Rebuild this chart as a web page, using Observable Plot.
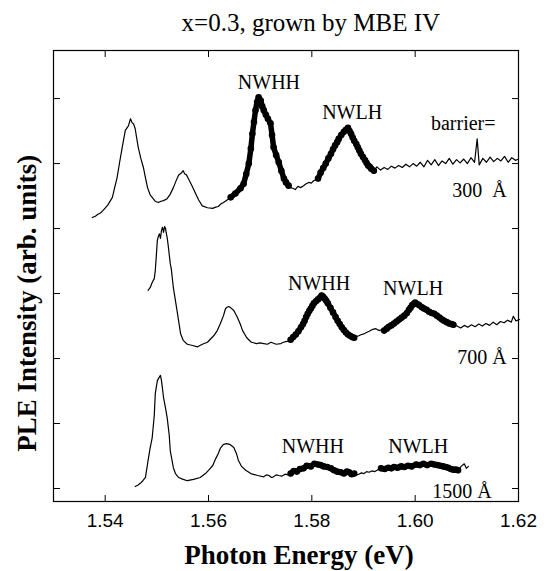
<!DOCTYPE html>
<html><head><meta charset="utf-8">
<script src="https://cdn.jsdelivr.net/npm/d3@7"></script>
<script src="https://cdn.jsdelivr.net/npm/@observablehq/plot@0.6"></script>
<style>body{margin:0;background:#fff}</style>
</head><body><div id="chart"></div>
<script>
// PLE spectra [photon energy (eV), intensity (arb. units, offset)]
const spectrum300 = [
[1.5375,4.17],[1.5381,4.19],[1.5386,4.22],[1.5391,4.24],[1.5396,4.28],[1.5405,4.36],[1.5414,4.48],[1.5418,4.62],[1.5423,4.78],[1.5428,5.02],[1.5433,5.25],[1.5439,5.51],[1.5445,5.58],[1.5449,5.69],[1.5452,5.63],[1.5455,5.61],[1.5458,5.54],[1.5464,5.25],[1.5469,5.08],[1.5474,4.94],[1.5478,4.78],[1.5482,4.63],[1.5487,4.52],[1.5491,4.48],[1.5497,4.42],[1.5503,4.40],[1.5508,4.42],[1.5513,4.43],[1.5520,4.46],[1.5526,4.53],[1.5532,4.63],[1.5537,4.73],[1.5542,4.82],[1.5548,4.86],[1.5551,4.89],[1.5554,4.84],[1.5557,4.83],[1.5561,4.77],[1.5568,4.66],[1.5575,4.54],[1.5581,4.44],[1.5588,4.35],[1.5598,4.32],[1.5608,4.31],[1.5614,4.33],[1.5619,4.34],[1.5624,4.38],[1.5629,4.40],[1.5636,4.44],[1.5643,4.48],[1.5652,4.54],[1.5662,4.62],[1.5668,4.69],[1.5673,4.84],[1.5678,5.00],[1.5682,5.23],[1.5685,5.46],[1.5688,5.64],[1.5691,5.82],[1.5694,5.95],[1.5697,6.02],[1.5701,5.97],[1.5704,5.88],[1.5707,5.82],[1.5711,5.75],[1.5715,5.69],[1.5720,5.62],[1.5723,5.44],[1.5726,5.25],[1.5731,5.13],[1.5736,5.02],[1.5741,4.89],[1.5746,4.77],[1.5750,4.71],[1.5755,4.66],[1.5759,4.63],[1.5763,4.62],[1.5768,4.60],[1.5773,4.65],[1.5778,4.63],[1.5784,4.66],[1.5789,4.69],[1.5794,4.71],[1.5799,4.70],[1.5804,4.74],[1.5808,4.75],[1.5812,4.77],[1.5817,4.86],[1.5822,4.93],[1.5827,5.00],[1.5832,5.08],[1.5837,5.15],[1.5841,5.22],[1.5845,5.28],[1.5849,5.33],[1.5852,5.38],[1.5857,5.44],[1.5862,5.49],[1.5866,5.52],[1.5870,5.55],[1.5873,5.50],[1.5876,5.46],[1.5879,5.40],[1.5882,5.35],[1.5886,5.30],[1.5889,5.25],[1.5892,5.20],[1.5895,5.15],[1.5899,5.10],[1.5903,5.05],[1.5906,5.01],[1.5909,4.97],[1.5912,4.95],[1.5915,4.92],[1.5920,4.89],
[1.5926,4.95],[1.5933,4.90],[1.5940,4.94],[1.5947,4.91],[1.5954,4.96],[1.5961,4.93],[1.5968,4.97],[1.5975,4.94],[1.5982,4.99],[1.5989,4.95],[1.5996,5.00],[1.6003,4.96],[1.6010,5.02],[1.6017,4.95],[1.6024,5.05],[1.6031,4.98],[1.6038,5.06],[1.6045,4.97],[1.6052,5.04],[1.6059,5.00],[1.6066,5.08],[1.6073,4.99],[1.6080,5.06],[1.6087,5.01],[1.6094,5.07],[1.6101,5.00],[1.6108,5.09],[1.6115,5.02],[1.6120,5.38],[1.6124,4.98],[1.6131,5.08],[1.6138,5.02],[1.6145,5.10],[1.6152,5.03],[1.6159,5.08],[1.6166,5.04],[1.6173,5.11],[1.6180,5.02],[1.6187,5.09],[1.6194,5.05],[1.6200,5.07]
];
const spectrum700 = [
[1.5483,3.05],[1.5487,3.09],[1.5491,3.17],[1.5495,3.23],[1.5497,3.35],[1.5499,3.58],[1.5501,3.82],[1.5503,3.88],[1.5505,3.92],[1.5507,3.85],[1.5509,3.97],[1.5511,4.02],[1.5513,3.94],[1.5515,4.03],[1.5517,4.00],[1.5518,3.94],[1.5520,3.86],[1.5522,3.74],[1.5526,3.46],[1.5528,3.38],[1.5532,3.09],[1.5536,2.89],[1.5540,2.69],[1.5546,2.38],[1.5551,2.28],[1.5559,2.22],[1.5569,2.20],[1.5579,2.18],[1.5588,2.22],[1.5598,2.25],[1.5610,2.35],[1.5617,2.43],[1.5623,2.54],[1.5629,2.66],[1.5633,2.77],[1.5636,2.79],[1.5639,2.80],[1.5643,2.78],[1.5649,2.74],[1.5656,2.63],[1.5662,2.52],[1.5666,2.43],[1.5674,2.32],[1.5683,2.25],[1.5693,2.23],[1.5700,2.24],[1.5707,2.23],[1.5714,2.22],[1.5721,2.25],[1.5731,2.22],[1.5740,2.23],[1.5745,2.25],[1.5750,2.26],[1.5755,2.27],
[1.5759,2.29],[1.5764,2.33],[1.5769,2.37],[1.5774,2.42],[1.5779,2.48],[1.5783,2.53],[1.5786,2.58],[1.5789,2.64],[1.5792,2.69],[1.5795,2.73],[1.5798,2.77],[1.5801,2.81],[1.5804,2.85],[1.5808,2.88],[1.5812,2.91],[1.5816,2.94],[1.5819,2.97],[1.5822,2.95],[1.5825,2.92],[1.5828,2.89],[1.5831,2.85],[1.5836,2.78],[1.5841,2.71],[1.5846,2.64],[1.5850,2.58],[1.5854,2.53],[1.5858,2.48],[1.5862,2.44],[1.5866,2.40],[1.5870,2.37],[1.5874,2.35],[1.5878,2.33],[1.5882,2.32],
[1.5887,2.34],[1.5891,2.35],[1.5896,2.37],[1.5901,2.38],[1.5906,2.40],[1.5911,2.42],[1.5918,2.45],[1.5924,2.46],[1.5928,2.44],[1.5932,2.43],[1.5936,2.45],
[1.5940,2.43],[1.5945,2.46],[1.5949,2.49],[1.5954,2.51],[1.5959,2.54],[1.5964,2.57],[1.5969,2.60],[1.5974,2.63],[1.5979,2.66],[1.5984,2.70],[1.5988,2.75],[1.5991,2.78],[1.5994,2.82],[1.5997,2.84],[1.6000,2.86],[1.6004,2.84],[1.6008,2.82],[1.6013,2.79],[1.6017,2.77],[1.6022,2.75],[1.6027,2.72],[1.6032,2.70],[1.6037,2.69],[1.6042,2.66],[1.6047,2.63],[1.6052,2.60],[1.6056,2.58],[1.6061,2.56],[1.6066,2.54],[1.6070,2.53],[1.6074,2.52],
[1.6081,2.50],[1.6088,2.47],[1.6095,2.51],[1.6102,2.48],[1.6109,2.52],[1.6116,2.49],[1.6123,2.53],[1.6130,2.50],[1.6137,2.54],[1.6144,2.51],[1.6151,2.56],[1.6158,2.52],[1.6165,2.57],[1.6172,2.55],[1.6179,2.59],[1.6186,2.56],[1.6190,2.65],[1.6195,2.58],[1.6202,2.60]
];
const spectrum1500 = [
[1.5458,0.03],[1.5463,0.05],[1.5468,0.08],[1.5473,0.12],[1.5478,0.17],[1.5483,0.43],[1.5487,0.62],[1.5491,0.78],[1.5495,1.12],[1.5497,1.46],[1.5501,1.66],[1.5503,1.69],[1.5507,1.74],[1.5509,1.66],[1.5513,1.40],[1.5517,1.23],[1.5520,1.09],[1.5524,0.82],[1.5526,0.58],[1.5532,0.32],[1.5536,0.23],[1.5542,0.17],[1.5551,0.14],[1.5559,0.12],[1.5571,0.14],[1.5584,0.17],[1.5594,0.23],[1.5600,0.28],[1.5608,0.35],[1.5614,0.46],[1.5619,0.54],[1.5623,0.62],[1.5629,0.68],[1.5635,0.69],[1.5641,0.68],[1.5649,0.63],[1.5654,0.54],[1.5658,0.43],[1.5664,0.34],[1.5672,0.28],[1.5682,0.23],[1.5695,0.20],[1.5707,0.18],[1.5712,0.21],[1.5717,0.20],[1.5722,0.17],[1.5726,0.18],[1.5731,0.21],[1.5736,0.20],[1.5742,0.19],[1.5748,0.22],[1.5754,0.21],
[1.5759,0.23],[1.5765,0.27],[1.5771,0.26],[1.5777,0.30],[1.5784,0.31],[1.5790,0.35],[1.5798,0.34],[1.5805,0.38],[1.5812,0.37],[1.5817,0.36],[1.5823,0.34],[1.5830,0.33],[1.5837,0.31],[1.5843,0.28],[1.5849,0.26],[1.5856,0.25],[1.5862,0.23],[1.5868,0.26],[1.5872,0.25],[1.5877,0.22],[1.5882,0.23],
[1.5887,0.21],[1.5891,0.22],[1.5896,0.24],[1.5901,0.23],[1.5906,0.26],[1.5911,0.25],[1.5916,0.27],[1.5922,0.26],[1.5928,0.29],
[1.5934,0.31],[1.5941,0.30],[1.5948,0.32],[1.5954,0.31],[1.5959,0.33],[1.5966,0.32],[1.5973,0.34],[1.5979,0.33],[1.5986,0.35],[1.5993,0.34],[1.6002,0.37],[1.6009,0.36],[1.6016,0.38],[1.6023,0.36],[1.6031,0.38],[1.6037,0.37],[1.6043,0.36],[1.6049,0.35],[1.6054,0.34],[1.6059,0.33],[1.6064,0.32],[1.6069,0.30],[1.6074,0.29],[1.6079,0.29],[1.6083,0.28],
[1.6089,0.34],[1.6095,0.38],[1.6099,0.31],[1.6103,0.34]
];
// energy ranges measured with the dotted (highlighted) trace
const dotRanges300 = [[1.5643, 1.5757], [1.5812, 1.5920]];
const dotRanges700 = [[1.5759, 1.5882], [1.5940, 1.6074]];
const dotRanges1500 = [[1.5759, 1.5882], [1.5934, 1.6083]];

const xTickValues = [1.54, 1.56, 1.58, 1.60, 1.62];
const xTopTickValues = [1.54, 1.56, 1.58, 1.60];
const yTickValues = [0, 1, 2, 3, 4, 5, 6];

// annotations
const peakText = ["NWHH", "NWLH", "barrier=", "NWHH", "NWLH", "NWHH", "NWLH"];
const peakE = [1.5717, 1.5878, 1.6093, 1.5814, 1.5996, 1.5802, 1.6006];
const peakV = [6.15, 5.69, 5.51, 3.05, 2.97, 0.54, 0.54];
const barrierText = ["300 \u00A0Å", "700 Å", "1500 Å"];
const barrierE = [1.6177, 1.6177, 1.6148];
const barrierV = [4.48, 1.92, -0.14];

const titleText = "x=0.3, grown by MBE IV";
const xLabel = "Photon Energy (eV)";
const yLabel = "PLE Intensity (arb. units)";

const spectra = [["300", spectrum300, dotRanges300], ["700", spectrum700, dotRanges700], ["1500", spectrum1500, dotRanges1500]];
const rows = [], dotRows = [];
for (const [id, spec, ranges] of spectra) {
  for (const [e, v] of spec) rows.push({id, e, v});
  ranges.forEach(([a, b], i) => {
    for (const [e, v] of spec) if (e >= a - 1e-9 && e <= b + 1e-9) dotRows.push({seg: id + "-" + i, e, v});
  });
}
const peaks = peakText.map((t, i) => ({t, e: peakE[i], v: peakV[i]}));
const barriers = barrierText.map((t, i) => ({t, e: barrierE[i], v: barrierV[i]}));

const serif = "'Liberation Serif', 'Times New Roman', serif";
const chart = Plot.plot({
  width: 551, height: 571,
  marginLeft: 53, marginRight: 33, marginTop: 50, marginBottom: 70,
  x: {domain: [1.53, 1.62]},
  y: {domain: [-0.2, 6.74]},
  style: {background: "white", color: "black", overflow: "visible"},
  marks: [
    Plot.frame({stroke: "black", strokeWidth: 1.2}),
    Plot.axisX(xTickValues, {anchor: "bottom", tickSize: 0, tickPadding: 12, tickFormat: d3.format(".2f"), fontSize: 19, fontFamily: "'Liberation Sans', Arial, sans-serif", label: null}),
    Plot.axisX(xTickValues, {anchor: "bottom", tickSize: -6, tickFormat: () => "", label: null}),
    Plot.axisX(xTopTickValues, {anchor: "top", tickSize: -6, tickFormat: () => "", label: null}),
    Plot.axisY(yTickValues, {anchor: "left", tickSize: -7, tickFormat: () => "", label: null}),
    Plot.axisY(yTickValues, {anchor: "right", tickSize: -7, tickFormat: () => "", label: null}),
    Plot.line(rows, {x: "e", y: "v", z: "id", stroke: "black", strokeWidth: 1.2}),
    Plot.line(dotRows, {x: "e", y: "v", z: "seg", stroke: "black", strokeWidth: 5.5}),
    Plot.dot(dotRows, {x: "e", y: "v", r: 3.3, fill: "black"}),
    Plot.text(peaks, {x: "e", y: "v", text: "t", textAnchor: "middle", lineAnchor: "bottom", fontSize: 20, fontFamily: serif, fill: "black"}),
    Plot.text(barriers, {x: "e", y: "v", text: "t", textAnchor: "end", lineAnchor: "bottom", fontSize: 20, fontFamily: serif, fill: "black"}),
    Plot.text([titleText], {x: 1.5798, frameAnchor: "top", dy: -20, lineAnchor: "bottom", fontSize: 25, fontFamily: serif, fill: "black"}),
    Plot.text([xLabel], {x: 1.5775, frameAnchor: "bottom", dy: 62, lineAnchor: "bottom", fontSize: 27, fontWeight: "bold", fontFamily: serif, fill: "black"}),
    Plot.text([yLabel], {y: 2.85, frameAnchor: "left", dx: -26, rotate: -90, textAnchor: "middle", lineAnchor: "middle", fontSize: 27, fontWeight: "bold", fontFamily: serif, fill: "black", letterSpacing: 3.4})
  ]
});
document.getElementById("chart").appendChild(chart);
</script>
</body></html>
